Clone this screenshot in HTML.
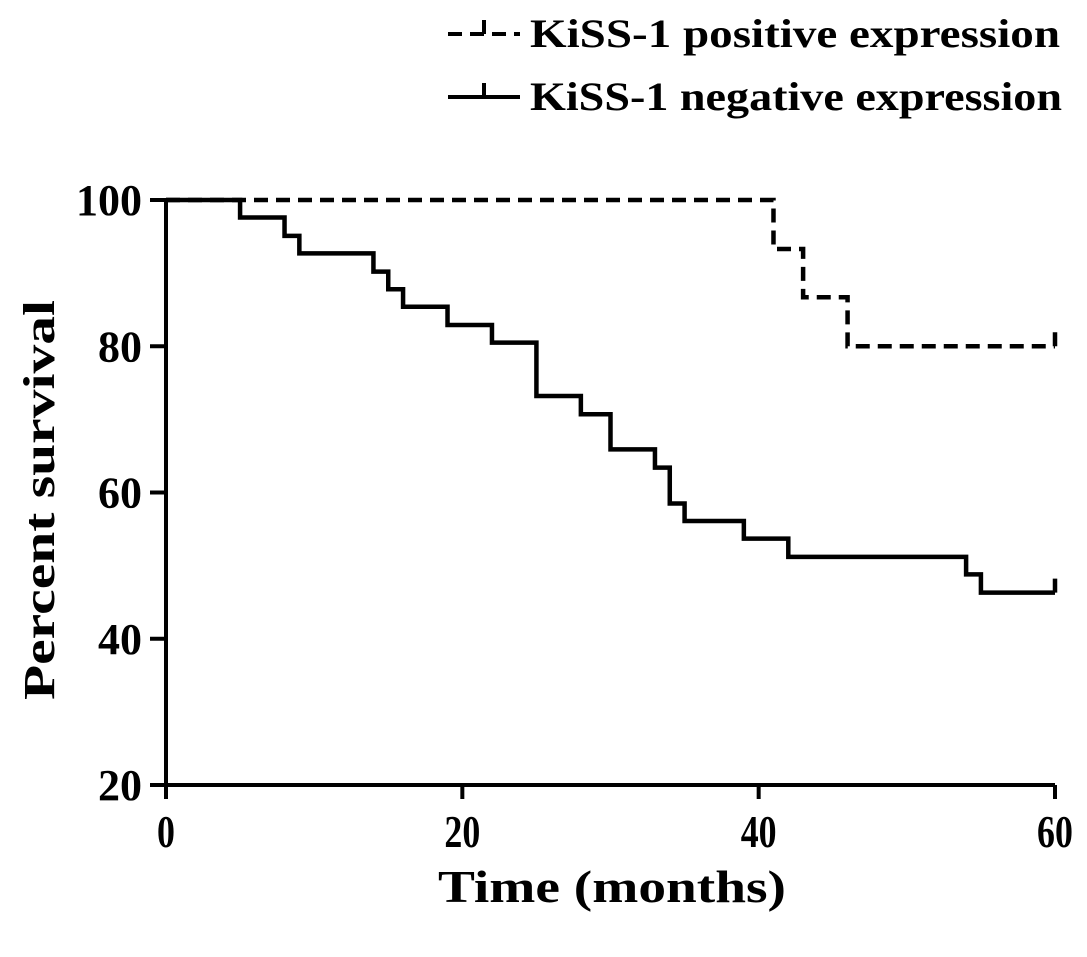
<!DOCTYPE html>
<html><head><meta charset="utf-8"><style>
html,body{margin:0;padding:0;background:#fff;}
svg text{font-family:"Liberation Serif",serif;font-weight:bold;fill:#000;}
</style></head><body>
<svg id="chart" width="1087" height="952" viewBox="0 0 1087 952" xmlns="http://www.w3.org/2000/svg">
<g id="legend">
 <g>
  <path d="M448 34 H520 M484 34 V20" stroke="#000" stroke-width="4" stroke-dasharray="14,8" fill="none"/>
  <text x="530" y="47" font-size="40" textLength="530" lengthAdjust="spacingAndGlyphs">KiSS-1 positive expression</text>
 </g>
 <g>
  <path d="M448 97 H520 M484 97 V83" stroke="#000" stroke-width="4" fill="none"/>
  <text x="530" y="110" font-size="40" textLength="532" lengthAdjust="spacingAndGlyphs">KiSS-1 negative expression</text>
 </g>
</g>
<g id="axes"></g>
<g id="series"></g>
<text transform="translate(54,500) rotate(-90)" text-anchor="middle" font-size="44" textLength="400" lengthAdjust="spacingAndGlyphs">Percent survival</text>
<text x="612" y="902" text-anchor="middle" font-size="46" textLength="348" lengthAdjust="spacingAndGlyphs">Time (months)</text>
</svg>
<script>
const xTicks = [0, 20, 40, 60];
const yTicks = [20, 40, 60, 80, 100];
const posTimes = [0, 41, 43, 46, 60];
const posValues = [100, 93.3, 86.7, 80, 80];
const negTimes = [0, 5, 8, 9, 14, 15, 16, 19, 22, 25, 28, 30, 33, 34, 35, 39, 42, 54, 55, 60];
const negValues = [100, 97.6, 95.1, 92.7, 90.2, 87.8, 85.4, 82.9, 80.5, 73.2, 70.7, 65.9, 63.4, 58.5, 56.1, 53.7, 51.2, 48.8, 46.3, 46.3];

const X0 = 166, X1 = 1055, Y0 = 785, Y1 = 200;
const xScale = t => X0 + (t - 0) / 60 * (X1 - X0);
const yScale = v => Y0 - (v - 20) / 80 * (Y0 - Y1);
const NS = "http://www.w3.org/2000/svg";
const axes = document.getElementById('axes');
const series = document.getElementById('series');
function mk(tag, attrs, parent){const e=document.createElementNS(NS,tag);for(const k in attrs)e.setAttribute(k,attrs[k]);parent.appendChild(e);return e;}

const yAxis = mk('line',{x1:X0,y1:Y1,x2:X0,y2:Y0+14,stroke:'#000','stroke-width':4},axes);


const xAxis = mk('line',{x1:X0-16,y1:Y0,x2:X1,y2:Y0,stroke:'#000','stroke-width':4},axes);


yTicks.forEach(v=>{
  const y=yScale(v);
  const tk=mk('line',{x1:X0-16,y1:y,x2:X0,y2:y,stroke:'#000','stroke-width':4},axes);
  
  
  const t=mk('text',{x:X0-24,y:y+15,'text-anchor':'end','font-size':44},axes);
  t.textContent=v;
  
  
});
xTicks.forEach(v=>{
  const x=xScale(v);
  const tk=mk('line',{x1:x,y1:Y0,x2:x,y2:Y0+14,stroke:'#000','stroke-width':4},axes);
  
  
  const t=mk('text',{x:x,y:Y0+62,'text-anchor':'middle','font-size':46,transform:'translate('+x+',0) scale(0.78,1) translate('+(-x)+',0)'},axes);
  t.textContent=v;
  
  
});
function stepPath(ts,vs){
  let d='M'+xScale(ts[0])+' '+yScale(vs[0]);
  for(let i=1;i<ts.length;i++){
    d+=' H'+xScale(ts[i])+' V'+yScale(vs[i]);
  }
  const last=ts.length-1;
  d+=' M'+xScale(ts[last])+' '+yScale(vs[last])+' V'+(yScale(vs[last])-14);
  return d;
}
const neg=mk('path',{d:stepPath(negTimes,negValues),stroke:'#000','stroke-width':4.5,fill:'none'},series);


const pos=mk('path',{d:stepPath(posTimes,posValues),stroke:'#000','stroke-width':4.5,fill:'none','stroke-dasharray':'14,8'},series);


</script>
</body></html>
